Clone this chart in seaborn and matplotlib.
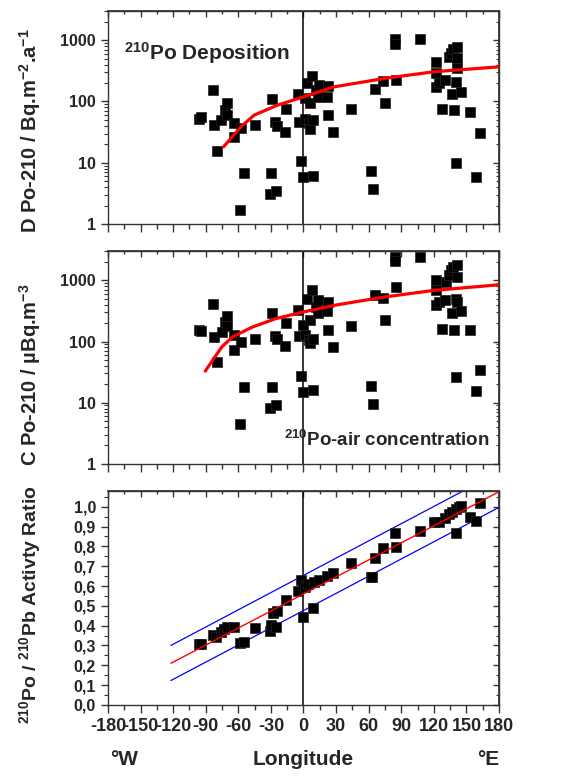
import numpy as np
import pandas as pd
import seaborn as sns
import matplotlib
matplotlib.use("Agg")
import matplotlib.pyplot as plt
from matplotlib.ticker import FixedLocator, FuncFormatter, LogLocator, NullFormatter, MultipleLocator

sns.set_theme(style="white")
plt.rcParams['font.family'] = ['Liberation Sans', 'DejaVu Sans']
plt.rcParams['font.weight'] = 'bold'
plt.rcParams['mathtext.fontset'] = 'custom'
plt.rcParams['mathtext.rm'] = 'Liberation Sans:bold'
plt.rcParams['mathtext.bf'] = 'Liberation Sans:bold'
plt.rcParams['mathtext.it'] = 'Liberation Sans:bold'
plt.rcParams['mathtext.default'] = 'bf'

# ---------------- data ----------------
dep_lon = [-96, -94, -83, -82, -79.6, -76, -72.4, -70.6, -70, -63.8, -63.8, -57.6, -54.6, -58.2,
           -44.5, -29.4, -30, -30.7, -25.5, -26, -24.5, -16.3, -16.9, -4.6, -3.7, -2.5, 0, 1.2,
           3.1, 1.2, 5.2, 6.1, 7.7, 6.1, 8.3, 8.9, 11.3, 14.4, 12.9, 21.2, 23, 23, 27.3, 44,
           62.4, 64, 65.4, 73.6, 74.8, 84.3, 84.3, 85.5, 106.9, 121.7, 121.7, 121.7, 124.7,
           127.2, 130, 133.5, 135.6, 136.4, 138.6, 138, 140.2, 141, 141.7, 141.7, 140.8, 145,
           153.3, 162.2, 159.1]
dep_val = [52, 55, 153, 41, 15.7, 49.6, 72, 93, 60, 45, 26.5, 37, 6.9, 1.7,
           42, 108, 6.7, 3.05, 3.45, 46.6, 39.6, 74, 32, 130, 46.6, 10.6, 5.9, 115,
           201, 51, 44, 93, 259, 36, 6.1, 50, 153, 185, 119, 119, 178, 61, 32, 74,
           7.3, 3.7, 157, 215, 93, 1025, 850, 223, 1025, 443, 293, 169, 201,
           74, 228, 535, 621, 130, 72, 704, 209, 778, 504, 345, 10, 144,
           68, 31, 5.9]

dep_fit_lon = [-73.6, -57.6, -45.3, -23.9, 0, 28.2, 74.2, 120, 180]
dep_fit_val = [18.2, 38.6, 60, 87, 119, 173, 237, 305, 367]

air_lon = [-96, -94, -83, -82, -79.6, -75.4, -72.4, -70.6, -70, -64.4, -64.4, -57.6, -54.6, -58.2,
           -44.5, -29.4, -29.4, -30.7, -25.5, -26, -24.5, -16.3, -16.9, -4.6, -3.7, -2.5, 0, -0.9,
           3.1, 1.2, 5.2, 6.1, 7.7, 6.1, 8.3, 8.3, 11.3, 13.5, 12.9, 21.2, 23, 23, 27.3, 44,
           61.8, 64, 65.4, 73.6, 74.8, 84.3, 84.3, 85.5, 106.9, 121.7, 121.7, 121.7, 124.7,
           127.2, 130, 131, 133.5, 135.6, 136.4, 138.6, 138, 140.2, 141, 141.7, 141.7, 140.8,
           145, 153.3, 162.2, 159.1]
air_val = [157, 150, 406, 119, 47, 144, 209, 259, 178, 130, 74, 99, 18.2, 4.4,
           112, 293, 17.8, 8.1, 9.2, 122, 108, 201, 84, 332, 122, 27, 15, 189,
           502, 126, 105, 228, 704, 93, 16, 112, 367, 472, 293, 312, 443, 153, 80, 178,
           18.9, 9.5, 569, 522, 223, 2400, 2066, 778, 2400, 1000, 687, 391, 443,
           163, 472, 939, 1208, 1455, 293, 157, 1650, 502, 1757, 1133, 443, 25.9,
           312, 153, 34, 15.7]

air_fit_lon = [-90.4, -75.1, -65.3, -46.9, -25.5, 0, 28.2, 74.2, 120, 180]
air_fit_val = [32.8, 82, 119, 173, 237, 305, 391, 535, 687, 850]

ratio_lon = [-96, -94, -83, -80.6, -76, -73.6, -70, -63.8, -58.2, -54.6, -44.5, -30.7, -30,
             -25.5, -28.5, -24.5, -16.3, -4.6, -2.5, -0.9, 0, 1.2, 3.7, 8.3, 9.8, 14.4, 22,
             27.3, 44, 61.8, 63.5, 65.4, 73.6, 84.3, 85.5, 106.9, 120.1, 124.7, 130, 134,
             137, 140.2, 143.3, 145, 140.8, 153.3, 159.1, 162.2]
ratio_val = [0.308, 0.305, 0.353, 0.345, 0.37, 0.381, 0.392, 0.395, 0.311, 0.319, 0.387, 0.373,
             0.403, 0.392, 0.462, 0.476, 0.529, 0.576, 0.63, 0.605, 0.445, 0.597, 0.61, 0.491,
             0.622, 0.63, 0.65, 0.664, 0.718, 0.647, 0.644, 0.74, 0.79, 0.866, 0.795, 0.877,
             0.921, 0.924, 0.945, 0.961, 0.975, 0.987, 1.0, 1.003, 0.869, 0.95, 0.929, 1.02]

fit_lon = [-122, 180]
fit_val = [0.21, 1.076]
upper_lon = [-122, 147]
upper_val = [0.30, 1.08]
lower_lon = [-122, 180]
lower_val = [0.123, 0.997]

x_ticks = [-180, -150, -120, -90, -60, -30, 0, 30, 60, 90, 120, 150, 180]
ratio_ticks = [0.0, 0.1, 0.2, 0.3, 0.4, 0.5, 0.6, 0.7, 0.8, 0.9, 1.0]

# ---------------- figure ----------------
fig = plt.figure(figsize=(5.71, 7.78), dpi=100)
L, W = 0.189, 0.685
ax1 = fig.add_axes([L, 0.712, W, 0.274])
ax2 = fig.add_axes([L, 0.404, W, 0.273])
ax3 = fig.add_axes([L, 0.094, W, 0.275])

ytick_fs = 11.5
xtick_fs = 13
msize = 42
spine_c = '#333333'

def style_axes(ax, log=False):
    for s in ax.spines.values():
        s.set_color(spine_c)
        s.set_linewidth(1.0)
    ax.set_xlim(-180, 180)
    ax.xaxis.set_major_locator(FixedLocator(x_ticks))
    ax.xaxis.set_minor_locator(MultipleLocator(15))
    ax.tick_params(axis='x', which='both', bottom=True, top=False, direction='out', color=spine_c)
    ax.tick_params(axis='x', which='major', length=6, width=1)
    ax.tick_params(axis='x', which='minor', length=3.5, width=1)
    ax.tick_params(axis='y', which='both', left=True, right=False, direction='out', color=spine_c)
    ax.tick_params(axis='y', which='major', length=5, width=1)
    ax.tick_params(axis='y', which='minor', length=3, width=0.8)
    ax.tick_params(axis='y', labelsize=ytick_fs)
    ax.tick_params(axis='x', labelsize=xtick_fs)
    ax.axvline(0, color='black', lw=1.1, zorder=1)
    # inward ticks on top and right
    sx = ax.secondary_xaxis('top')
    sx.xaxis.set_major_locator(FixedLocator(x_ticks))
    sx.xaxis.set_minor_locator(MultipleLocator(15))
    sx.tick_params(axis='x', which='both', direction='in', labeltop=False, color=spine_c)
    sx.tick_params(axis='x', which='major', length=4, width=1)
    sx.tick_params(axis='x', which='minor', length=2.5, width=1)
    sx.spines['top'].set_color(spine_c)
    sy = ax.secondary_yaxis('right')
    if log:
        sy.yaxis.set_major_locator(FixedLocator([1, 10, 100, 1000]))
        sy.yaxis.set_minor_locator(LogLocator(base=10, subs=np.arange(2, 10)))
    else:
        sy.yaxis.set_major_locator(FixedLocator(ratio_ticks))
        sy.yaxis.set_minor_locator(MultipleLocator(0.05))
    sy.yaxis.set_minor_formatter(NullFormatter())
    sy.tick_params(axis='y', which='both', direction='in', labelright=False, color=spine_c)
    sy.tick_params(axis='y', which='major', length=4, width=1)
    sy.tick_params(axis='y', which='minor', length=2.5, width=0.8)
    sy.spines['right'].set_color(spine_c)

def log_panel(ax, lon, val, flon, fval):
    df = pd.DataFrame({'lon': lon, 'val': val})
    sns.scatterplot(data=df, x='lon', y='val', ax=ax, marker='s', color='black',
                    edgecolor='#222222', linewidth=0.5, s=msize, zorder=3, legend=False)
    fdf = pd.DataFrame({'lon': flon, 'val': fval})
    sns.lineplot(data=fdf, x='lon', y='val', ax=ax, color='#ff0000', lw=2.3, sort=False,
                 estimator=None, zorder=4)
    ax.set_yscale('log')
    ax.set_ylim(1, 3000)
    ax.yaxis.set_major_locator(FixedLocator([1, 10, 100, 1000]))
    ax.yaxis.set_major_formatter(FuncFormatter(lambda v, p: f"{int(round(v))}"))
    ax.yaxis.set_minor_locator(LogLocator(base=10, subs=np.arange(2, 10)))
    ax.yaxis.set_minor_formatter(NullFormatter())
    style_axes(ax, log=True)
    ax.set_xticklabels([])
    ax.set_xlabel('')

log_panel(ax1, dep_lon, dep_val, dep_fit_lon, dep_fit_val)
log_panel(ax2, air_lon, air_val, air_fit_lon, air_fit_val)

for a in (ax1, ax2):
    for lab in a.get_yticklabels():
        lab.set_fontweight('bold')

ylab_fs = 14.5
ax1.set_ylabel(r'D Po-210 / Bq.m$^{-2}$.a$^{-1}$', fontsize=ylab_fs, fontweight='bold')
ax2.set_ylabel(r'C Po-210 / µBq.m$^{-3}$', fontsize=ylab_fs, fontweight='bold')
ax1.text(0.04, 0.80, r'$^{210}$Po Deposition', transform=ax1.transAxes, fontsize=15,
         fontweight='bold', ha='left', va='center')
ax2.text(0.45, 0.11, r'$^{210}$Po-air concentration', transform=ax2.transAxes, fontsize=13.5,
         fontweight='bold', ha='left', va='center')

# bottom panel
rdf = pd.DataFrame({'lon': ratio_lon, 'val': ratio_val})
sns.lineplot(x=upper_lon, y=upper_val, ax=ax3, color='#0000ff', lw=0.9, sort=False, estimator=None, zorder=2)
sns.lineplot(x=lower_lon, y=lower_val, ax=ax3, color='#0000ff', lw=0.9, sort=False, estimator=None, zorder=2)
sns.scatterplot(data=rdf, x='lon', y='val', ax=ax3, marker='s', color='black',
                edgecolor='#222222', linewidth=0.5, s=msize, zorder=3, legend=False)
sns.lineplot(x=fit_lon, y=fit_val, ax=ax3, color='#ff0000', lw=1.0, sort=False, estimator=None, zorder=4)
ax3.set_ylim(0, 1.08)
ax3.yaxis.set_major_locator(FixedLocator(ratio_ticks))
ax3.yaxis.set_minor_locator(MultipleLocator(0.05))
ax3.yaxis.set_major_formatter(FuncFormatter(lambda v, p: f"{v:.1f}".replace('.', ',')))
style_axes(ax3, log=False)
ax3.xaxis.set_major_formatter(FuncFormatter(lambda v, p: f"{int(v)}"))
for lab in ax3.get_yticklabels() + ax3.get_xticklabels():
    lab.set_fontweight('bold')
ax3.set_ylabel(r'$^{210}$Po / $^{210}$Pb Activty Ratio', fontsize=14, fontweight='bold')
ax3.set_xlabel('')

ax1.yaxis.set_label_coords(-0.165, 0.44)
ax2.yaxis.set_label_coords(-0.165, 0.42)
ax3.yaxis.set_label_coords(-0.165, 0.47)

fig.text(0.531, 0.012, 'Longitude', fontsize=15, fontweight='bold', ha='center', va='bottom')
fig.text(0.218, 0.012, '°W', fontsize=15, fontweight='bold', ha='center', va='bottom')
fig.text(0.855, 0.012, '°E', fontsize=15, fontweight='bold', ha='center', va='bottom')

fig.savefig('out.png', dpi=100)
